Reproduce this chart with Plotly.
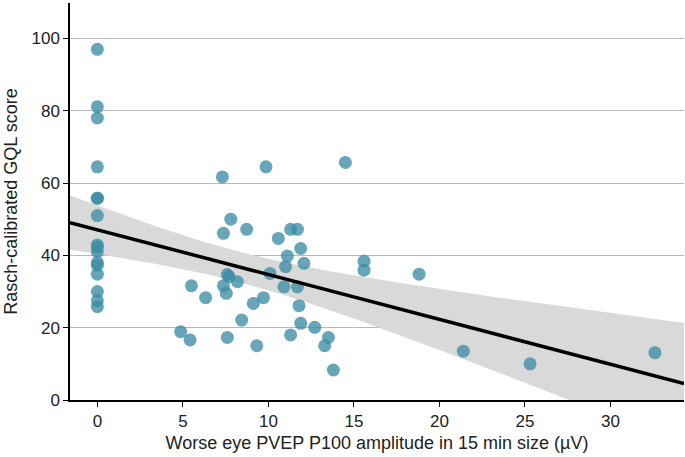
import numpy as np
import plotly.graph_objects as go

# Worse eye PVEP P100 amplitude (µV)
amplitude = [0, 0, 0, 0, 0, 0, 0, 0, 0, 0, 0, 0, 0, 0, 0, 0,
             7.31, 9.86, 14.5, 7.80, 7.37, 8.73, 10.58, 11.30, 11.70, 11.89,
             11.11, 12.08, 11.0, 10.09, 15.59, 15.59, 7.60, 7.70, 8.19, 7.37,
             7.54, 10.91, 11.70, 5.50, 6.33, 9.12, 9.71, 11.79, 8.44, 11.89,
             12.71, 4.87, 5.42, 7.60, 9.32, 11.30, 13.51, 13.29, 13.80,
             18.81, 21.40, 25.3, 32.6]
# Rasch-calibrated GQL score
gql = [97.0, 81.1, 78.0, 64.5, 55.8, 55.8, 51.0, 42.9, 42.3, 41.0,
       38.0, 37.3, 34.8, 30.0, 27.5, 25.8,
       61.7, 64.5, 65.7, 50.0, 46.1, 47.2, 44.7, 47.2, 47.2, 41.9,
       39.8, 37.8, 36.9, 35.0, 38.4, 35.9, 34.7, 34.1, 32.7, 31.6,
       29.5, 31.3, 31.3, 31.6, 28.3, 26.7, 28.3, 26.1, 22.1, 21.2,
       20.1, 18.9, 16.6, 17.3, 15.0, 18.0, 17.3, 15.0, 8.3,
       34.8, 13.5, 10.0, 13.1]

x_range = [-1.6, 34.3]
y_range = [0, 109.8]
x_ticks = [0, 5, 10, 15, 20, 25, 30]
y_ticks = [0, 20, 40, 60, 80, 100]

x = np.array(amplitude, dtype=float)
y = np.array(gql, dtype=float)
n = len(x)
slope, intercept = np.polyfit(x, y, 1)
resid = y - (intercept + slope * x)
s = np.sqrt(np.sum(resid ** 2) / (n - 2))
xbar = x.mean()
sxx = np.sum((x - xbar) ** 2)
t_crit = 2.003
xg = np.linspace(x_range[0], x_range[1], 200)
yg = intercept + slope * xg
half = t_crit * s * np.sqrt(1.0 / n + (xg - xbar) ** 2 / sxx)
upper = yg + half
lower = yg - half

fig = go.Figure()
fig.add_trace(go.Scatter(
    x=np.concatenate([xg, xg[::-1]]),
    y=np.concatenate([upper, lower[::-1]]),
    fill="toself", fillcolor="#d9d9d9", line=dict(width=0),
    mode="lines", hoverinfo="skip", showlegend=False))
fig.add_trace(go.Scatter(
    x=amplitude, y=gql, mode="markers",
    marker=dict(size=13, color="rgb(60,140,165)", opacity=0.78, line=dict(width=0)),
    showlegend=False))
fig.add_trace(go.Scatter(
    x=xg, y=yg, mode="lines", line=dict(color="black", width=3.5),
    showlegend=False))

fig.update_layout(
    width=685, height=457,
    margin=dict(l=70, r=1, t=3, b=57),
    plot_bgcolor="white", paper_bgcolor="white",
    font=dict(family="Liberation Sans, Arial, sans-serif", size=17, color="#222"),
    xaxis=dict(range=x_range, tickvals=x_ticks, showgrid=False, zeroline=False,
               showline=True, linecolor="black", linewidth=1.5,
               ticks="outside", ticklen=5, tickcolor="black", automargin=False,
               title=dict(text="Worse eye PVEP P100 amplitude in 15 min size (µV)",
                          font=dict(size=18), standoff=6),
               tickfont=dict(size=17)),
    yaxis=dict(range=y_range, tickvals=y_ticks, showgrid=True, gridcolor="#b8b8b8",
               gridwidth=1, zeroline=False,
               showline=True, linecolor="black", linewidth=1.5,
               ticks="outside", ticklen=5, tickcolor="black", automargin=False,
               title=dict(text="Rasch-calibrated GQL score", font=dict(size=18), standoff=9),
               tickfont=dict(size=17)),
)
fig.write_html("out.html", config={"displayModeBar": False},
               post_script="document.body.style.margin='0';document.body.style.overflow='hidden';")
